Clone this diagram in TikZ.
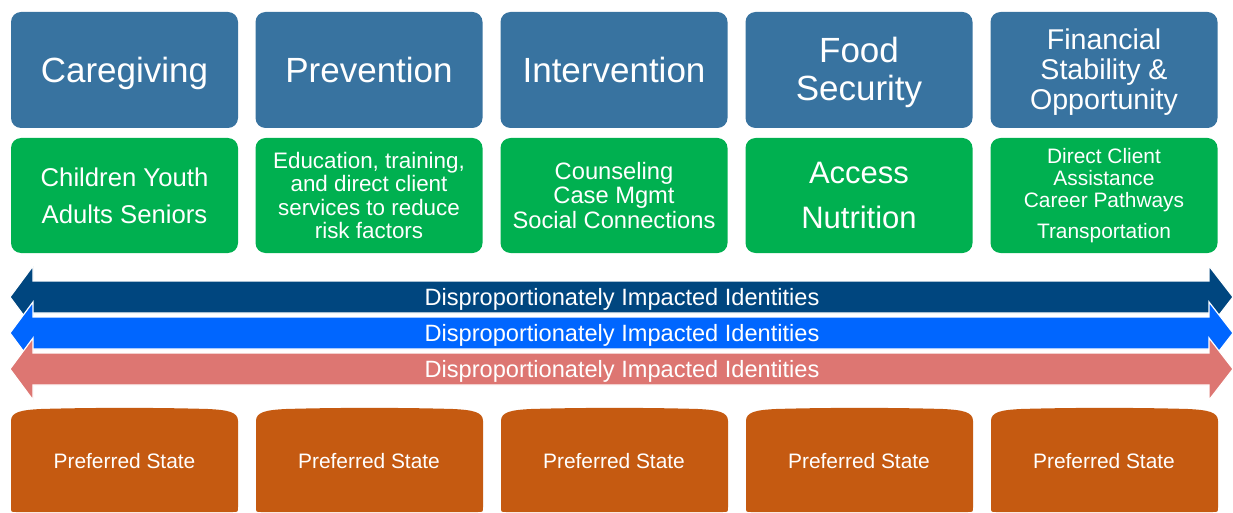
\documentclass[tikz,border=0pt]{standalone}
\usepackage{fontspec}
\setmainfont{Liberation Sans}
\definecolor{titleblue}{HTML}{3873A0}
\definecolor{groupgreen}{HTML}{00B050}
\definecolor{navyarrow}{HTML}{00467F}
\definecolor{brightarrow}{HTML}{0066FF}
\definecolor{salmonarrow}{HTML}{DD7672}
\definecolor{prefcolor}{HTML}{C55A11}
\newcommand{\fs}[2]{\fontsize{#1}{#2}\selectfont}
\begin{document}
\begin{tikzpicture}[x=1pt,y=-1pt,
  box/.style={rounded corners=10pt, minimum width=227pt, text=white, align=center, inner sep=0pt},
  titlebox/.style={box, fill=titleblue, minimum height=116pt},
  onetitle/.style={titlebox, font=\fs{35}{38}, text height=25.1pt, text depth=0pt},
  groupbox/.style={box, fill=groupgreen, minimum height=115pt},
  band/.style={draw=white, line width=1.2pt},
  bandtext/.style={text=white, font=\fs{23.6}{26}, inner sep=0pt},
  preftext/.style={text=white, font=\fs{20.9}{24}, inner sep=0pt}]
\useasboundingbox (0,0) rectangle (1233,513);
% title boxes
\node[onetitle] (t1) at (124.5,70) {Caregiving};
\node[onetitle] (t2) at (369,70) {Prevention};
\node[onetitle] (t3) at (614,70) {Intervention};
\node[titlebox, font=\fs{35}{38}] (t4) at (859,70) {};
\node[text=white, align=center, inner sep=0pt, font=\fs{35}{38}] (t4text) at (859,72) {Food\\Security};
\node[titlebox] (t5) at (1104,70) {};
\node[text=white, align=center, inner sep=0pt, font=\fs{28.6}{30}] (t5text) at (1104,72.5) {Financial\\Stability \&\\Opportunity};
% group boxes
\node[groupbox, font=\fs{25.7}{37}] (g1) at (124.5,195.5) {Children Youth\\Adults Seniors};
\node[groupbox, font=\fs{22.4}{23.4}] (g2) at (369,195.5) {Education, training,\\and direct client\\services to reduce\\risk factors};
\node[groupbox, font=\fs{23.7}{24.5}] (g3) at (614,195.5) {Counseling\\Case Mgmt\\Social Connections};
\node[groupbox, font=\fs{31}{45}] (g4) at (859,195.5) {Access\\Nutrition};
\node[groupbox, font=\fs{20.9}{22}] (g5) at (1104,195.5) {Direct Client\\Assistance\\Career Pathways\\[9pt]Transportation};
% arrows
\filldraw[band, fill=navyarrow] (10,297) -- (33,266) -- (33,281) -- (1209,281) -- (1209,266) -- (1233,297) -- (1209,328) -- (1209,313) -- (33,313) -- (33,328) -- cycle;
\filldraw[band, fill=brightarrow] (10,333) -- (33,302) -- (33,317) -- (1209,317) -- (1209,302) -- (1233,333) -- (1209,364) -- (1209,349) -- (33,349) -- (33,364) -- cycle;
\filldraw[band, fill=salmonarrow] (10,369) -- (33,338) -- (33,353) -- (1209,353) -- (1209,338) -- (1233,369) -- (1209,400) -- (1209,385) -- (33,385) -- (33,400) -- cycle;
\node[bandtext] (a1) at (622,299) {Disproportionately Impacted Identities};
\node[bandtext] (a2) at (622,335) {Disproportionately Impacted Identities};
\node[bandtext] (a3) at (622,371) {Disproportionately Impacted Identities};
% preferred state shapes
\foreach \x in {11,256,501,746,991}{
  \fill[prefcolor] (\x,507) -- (\x,421) .. controls (\x,412) and (\x+10,410) .. (\x+30,409)
    .. controls (\x+80,407.5) and (\x+147,407.5) .. (\x+197,409)
    .. controls (\x+217,410) and (\x+227,412) .. (\x+227,421) -- (\x+227,507)
    .. controls (\x+227,512) .. (\x+222,512) -- (\x+5,512) .. controls (\x,512) .. (\x,507) -- cycle;
}
\node[preftext] (p1) at (124.5,461) {Preferred State};
\node[preftext] (p2) at (369,461) {Preferred State};
\node[preftext] (p3) at (614,461) {Preferred State};
\node[preftext] (p4) at (859,461) {Preferred State};
\node[preftext] (p5) at (1104,461) {Preferred State};
\end{tikzpicture}
\end{document}
